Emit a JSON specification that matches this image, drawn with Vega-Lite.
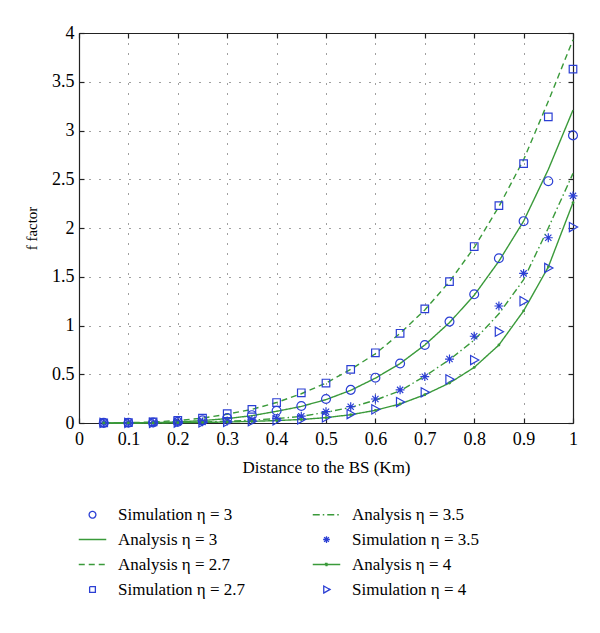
{
  "$schema": "https://vega.github.io/schema/vega-lite/v6.json",
  "width": 494,
  "height": 390,
  "autosize": {"type": "none"},
  "padding": {"left": 79, "top": 33, "right": 27, "bottom": 210},
  "config": {
    "view": {"stroke": null},
    "font": "Liberation Serif",
    "axis": {"labelFont": "Liberation Serif", "titleFont": "Liberation Serif", "labelColor": "#000", "titleColor": "#000", "titleFontWeight": "normal", "domainColor": "#222", "tickColor": "#222", "domainWidth": 1.2, "tickWidth": 1.2, "labelFlush": false}
  },
  "data": {"values": [
    {"x":0.05,"y":0.002,"series":"Simulation η = 2.7"},{"x":0.1,"y":0.005,"series":"Simulation η = 2.7"},{"x":0.15,"y":0.012,"series":"Simulation η = 2.7"},{"x":0.2,"y":0.028,"series":"Simulation η = 2.7"},{"x":0.25,"y":0.05,"series":"Simulation η = 2.7"},{"x":0.3,"y":0.095,"series":"Simulation η = 2.7"},{"x":0.35,"y":0.14,"series":"Simulation η = 2.7"},{"x":0.4,"y":0.21,"series":"Simulation η = 2.7"},{"x":0.45,"y":0.31,"series":"Simulation η = 2.7"},{"x":0.5,"y":0.41,"series":"Simulation η = 2.7"},{"x":0.55,"y":0.55,"series":"Simulation η = 2.7"},{"x":0.6,"y":0.72,"series":"Simulation η = 2.7"},{"x":0.65,"y":0.92,"series":"Simulation η = 2.7"},{"x":0.7,"y":1.17,"series":"Simulation η = 2.7"},{"x":0.75,"y":1.45,"series":"Simulation η = 2.7"},{"x":0.8,"y":1.81,"series":"Simulation η = 2.7"},{"x":0.85,"y":2.23,"series":"Simulation η = 2.7"},{"x":0.9,"y":2.66,"series":"Simulation η = 2.7"},{"x":0.95,"y":3.14,"series":"Simulation η = 2.7"},{"x":1,"y":3.63,"series":"Simulation η = 2.7"},
    {"x":0.05,"y":0.001,"series":"Simulation η = 3"},{"x":0.1,"y":0.002,"series":"Simulation η = 3"},{"x":0.15,"y":0.005,"series":"Simulation η = 3"},{"x":0.2,"y":0.013,"series":"Simulation η = 3"},{"x":0.25,"y":0.027,"series":"Simulation η = 3"},{"x":0.3,"y":0.05,"series":"Simulation η = 3"},{"x":0.35,"y":0.08,"series":"Simulation η = 3"},{"x":0.4,"y":0.126,"series":"Simulation η = 3"},{"x":0.45,"y":0.174,"series":"Simulation η = 3"},{"x":0.5,"y":0.246,"series":"Simulation η = 3"},{"x":0.55,"y":0.34,"series":"Simulation η = 3"},{"x":0.6,"y":0.465,"series":"Simulation η = 3"},{"x":0.65,"y":0.61,"series":"Simulation η = 3"},{"x":0.7,"y":0.8,"series":"Simulation η = 3"},{"x":0.75,"y":1.04,"series":"Simulation η = 3"},{"x":0.8,"y":1.32,"series":"Simulation η = 3"},{"x":0.85,"y":1.69,"series":"Simulation η = 3"},{"x":0.9,"y":2.07,"series":"Simulation η = 3"},{"x":0.95,"y":2.48,"series":"Simulation η = 3"},{"x":1,"y":2.95,"series":"Simulation η = 3"},
    {"x":0.05,"y":0.0005,"series":"Simulation η = 3.5"},{"x":0.1,"y":0.001,"series":"Simulation η = 3.5"},{"x":0.15,"y":0.003,"series":"Simulation η = 3.5"},{"x":0.2,"y":0.006,"series":"Simulation η = 3.5"},{"x":0.25,"y":0.012,"series":"Simulation η = 3.5"},{"x":0.3,"y":0.02,"series":"Simulation η = 3.5"},{"x":0.35,"y":0.032,"series":"Simulation η = 3.5"},{"x":0.4,"y":0.048,"series":"Simulation η = 3.5"},{"x":0.45,"y":0.07,"series":"Simulation η = 3.5"},{"x":0.5,"y":0.116,"series":"Simulation η = 3.5"},{"x":0.55,"y":0.167,"series":"Simulation η = 3.5"},{"x":0.6,"y":0.246,"series":"Simulation η = 3.5"},{"x":0.65,"y":0.34,"series":"Simulation η = 3.5"},{"x":0.7,"y":0.475,"series":"Simulation η = 3.5"},{"x":0.75,"y":0.656,"series":"Simulation η = 3.5"},{"x":0.8,"y":0.89,"series":"Simulation η = 3.5"},{"x":0.85,"y":1.2,"series":"Simulation η = 3.5"},{"x":0.9,"y":1.535,"series":"Simulation η = 3.5"},{"x":0.95,"y":1.9,"series":"Simulation η = 3.5"},{"x":1,"y":2.33,"series":"Simulation η = 3.5"},
    {"x":0.05,"y":0.0002,"series":"Simulation η = 4"},{"x":0.1,"y":0.0005,"series":"Simulation η = 4"},{"x":0.15,"y":0.001,"series":"Simulation η = 4"},{"x":0.2,"y":0.003,"series":"Simulation η = 4"},{"x":0.25,"y":0.006,"series":"Simulation η = 4"},{"x":0.3,"y":0.011,"series":"Simulation η = 4"},{"x":0.35,"y":0.018,"series":"Simulation η = 4"},{"x":0.4,"y":0.027,"series":"Simulation η = 4"},{"x":0.45,"y":0.038,"series":"Simulation η = 4"},{"x":0.5,"y":0.058,"series":"Simulation η = 4"},{"x":0.55,"y":0.092,"series":"Simulation η = 4"},{"x":0.6,"y":0.14,"series":"Simulation η = 4"},{"x":0.65,"y":0.215,"series":"Simulation η = 4"},{"x":0.7,"y":0.315,"series":"Simulation η = 4"},{"x":0.75,"y":0.448,"series":"Simulation η = 4"},{"x":0.8,"y":0.646,"series":"Simulation η = 4"},{"x":0.85,"y":0.936,"series":"Simulation η = 4"},{"x":0.9,"y":1.25,"series":"Simulation η = 4"},{"x":0.95,"y":1.59,"series":"Simulation η = 4"},{"x":1,"y":2.01,"series":"Simulation η = 4"},
    {"x":0.05,"y":0.0005,"series":"Analysis η = 2.7"},{"x":0.1,"y":0.003,"series":"Analysis η = 2.7"},{"x":0.15,"y":0.01,"series":"Analysis η = 2.7"},{"x":0.2,"y":0.025,"series":"Analysis η = 2.7"},{"x":0.25,"y":0.05,"series":"Analysis η = 2.7"},{"x":0.3,"y":0.09,"series":"Analysis η = 2.7"},{"x":0.35,"y":0.14,"series":"Analysis η = 2.7"},{"x":0.4,"y":0.21,"series":"Analysis η = 2.7"},{"x":0.45,"y":0.3,"series":"Analysis η = 2.7"},{"x":0.5,"y":0.41,"series":"Analysis η = 2.7"},{"x":0.55,"y":0.55,"series":"Analysis η = 2.7"},{"x":0.6,"y":0.71,"series":"Analysis η = 2.7"},{"x":0.65,"y":0.92,"series":"Analysis η = 2.7"},{"x":0.7,"y":1.16,"series":"Analysis η = 2.7"},{"x":0.75,"y":1.45,"series":"Analysis η = 2.7"},{"x":0.8,"y":1.8,"series":"Analysis η = 2.7"},{"x":0.85,"y":2.22,"series":"Analysis η = 2.7"},{"x":0.9,"y":2.7,"series":"Analysis η = 2.7"},{"x":0.95,"y":3.3,"series":"Analysis η = 2.7"},{"x":1,"y":3.93,"series":"Analysis η = 2.7"},
    {"x":0.05,"y":0.0002,"series":"Analysis η = 3"},{"x":0.1,"y":0.001,"series":"Analysis η = 3"},{"x":0.15,"y":0.004,"series":"Analysis η = 3"},{"x":0.2,"y":0.011,"series":"Analysis η = 3"},{"x":0.25,"y":0.025,"series":"Analysis η = 3"},{"x":0.3,"y":0.045,"series":"Analysis η = 3"},{"x":0.35,"y":0.075,"series":"Analysis η = 3"},{"x":0.4,"y":0.12,"series":"Analysis η = 3"},{"x":0.45,"y":0.17,"series":"Analysis η = 3"},{"x":0.5,"y":0.24,"series":"Analysis η = 3"},{"x":0.55,"y":0.335,"series":"Analysis η = 3"},{"x":0.6,"y":0.46,"series":"Analysis η = 3"},{"x":0.65,"y":0.61,"series":"Analysis η = 3"},{"x":0.7,"y":0.8,"series":"Analysis η = 3"},{"x":0.75,"y":1.03,"series":"Analysis η = 3"},{"x":0.8,"y":1.31,"series":"Analysis η = 3"},{"x":0.85,"y":1.66,"series":"Analysis η = 3"},{"x":0.9,"y":2.07,"series":"Analysis η = 3"},{"x":0.95,"y":2.6,"series":"Analysis η = 3"},{"x":1,"y":3.21,"series":"Analysis η = 3"},
    {"x":0.05,"y":0.0003,"series":"Analysis η = 3.5"},{"x":0.1,"y":0.001,"series":"Analysis η = 3.5"},{"x":0.15,"y":0.002,"series":"Analysis η = 3.5"},{"x":0.2,"y":0.005,"series":"Analysis η = 3.5"},{"x":0.25,"y":0.01,"series":"Analysis η = 3.5"},{"x":0.3,"y":0.018,"series":"Analysis η = 3.5"},{"x":0.35,"y":0.03,"series":"Analysis η = 3.5"},{"x":0.4,"y":0.045,"series":"Analysis η = 3.5"},{"x":0.45,"y":0.068,"series":"Analysis η = 3.5"},{"x":0.5,"y":0.11,"series":"Analysis η = 3.5"},{"x":0.55,"y":0.16,"series":"Analysis η = 3.5"},{"x":0.6,"y":0.235,"series":"Analysis η = 3.5"},{"x":0.65,"y":0.33,"series":"Analysis η = 3.5"},{"x":0.7,"y":0.48,"series":"Analysis η = 3.5"},{"x":0.75,"y":0.65,"series":"Analysis η = 3.5"},{"x":0.8,"y":0.85,"series":"Analysis η = 3.5"},{"x":0.85,"y":1.12,"series":"Analysis η = 3.5"},{"x":0.9,"y":1.47,"series":"Analysis η = 3.5"},{"x":0.95,"y":2.0,"series":"Analysis η = 3.5"},{"x":1,"y":2.56,"series":"Analysis η = 3.5"},
    {"x":0.05,"y":0.0002,"series":"Analysis η = 4"},{"x":0.1,"y":0.0005,"series":"Analysis η = 4"},{"x":0.15,"y":0.001,"series":"Analysis η = 4"},{"x":0.2,"y":0.003,"series":"Analysis η = 4"},{"x":0.25,"y":0.006,"series":"Analysis η = 4"},{"x":0.3,"y":0.01,"series":"Analysis η = 4"},{"x":0.35,"y":0.017,"series":"Analysis η = 4"},{"x":0.4,"y":0.025,"series":"Analysis η = 4"},{"x":0.45,"y":0.036,"series":"Analysis η = 4"},{"x":0.5,"y":0.055,"series":"Analysis η = 4"},{"x":0.55,"y":0.085,"series":"Analysis η = 4"},{"x":0.6,"y":0.13,"series":"Analysis η = 4"},{"x":0.65,"y":0.195,"series":"Analysis η = 4"},{"x":0.7,"y":0.29,"series":"Analysis η = 4"},{"x":0.75,"y":0.41,"series":"Analysis η = 4"},{"x":0.8,"y":0.57,"series":"Analysis η = 4"},{"x":0.85,"y":0.8,"series":"Analysis η = 4"},{"x":0.9,"y":1.15,"series":"Analysis η = 4"},{"x":0.95,"y":1.6,"series":"Analysis η = 4"},{"x":1,"y":2.26,"series":"Analysis η = 4"}
  ]},
  "layer": [
    {
      "transform": [{"filter": {"field": "series", "oneOf": ["Analysis η = 2.7", "Analysis η = 3", "Analysis η = 3.5", "Analysis η = 4"]}}],
      "mark": {"type": "line", "strokeWidth": 1.4},
      "encoding": {
        "x": {"field": "x", "type": "quantitative", "scale": {"domain": [0, 1], "nice": false},
          "axis": {"values": [0, 0.1, 0.2, 0.3, 0.4, 0.5, 0.6, 0.7, 0.8, 0.9, 1], "format": "~g", "tickSize": -5, "labelPadding": 12, "labelFontSize": 18, "title": "Distance to the BS (Km)", "titleFontSize": 17, "titlePadding": 11, "grid": true, "gridDash": [1, 9], "gridColor": "#000", "gridOpacity": 0.75, "gridWidth": 1}},
        "y": {"field": "y", "type": "quantitative", "scale": {"domain": [0, 4], "nice": false},
          "axis": {"values": [0, 0.5, 1, 1.5, 2, 2.5, 3, 3.5, 4], "format": "~g", "tickSize": -5, "labelPadding": 10, "labelFontSize": 18, "title": "f factor", "titleFontSize": 15, "titlePadding": 12, "grid": true, "gridDash": [1, 9], "gridColor": "#000", "gridOpacity": 0.75, "gridWidth": 1}},
        "color": {"field": "series", "type": "nominal",
          "scale": {"domain": ["Simulation η = 3", "Analysis η = 3.5", "Analysis η = 3", "Simulation η = 3.5", "Analysis η = 2.7", "Analysis η = 4", "Simulation η = 2.7", "Simulation η = 4"],
                    "range": ["#2b3fd4", "#3a9a3a", "#3a9a3a", "#2b3fd4", "#3a9a3a", "#3a9a3a", "#2b3fd4", "#2b3fd4"]},
          "legend": {"orient": "bottom", "columns": 2, "title": null, "symbolSize": 625, "labelFont": "Liberation Serif", "labelFontSize": 17, "labelColor": "#000", "labelOffset": 12, "columnPadding": 64, "rowPadding": 3, "offset": 26, "padding": 0, "symbolStrokeWidth": 1.3,
            "encode": {"symbols": {"update": {"shape": {"scale": "shape", "field": "value"}, "strokeDash": {"scale": "strokeDash", "field": "value"}, "fill": {"value": "transparent"}, "stroke": {"scale": "color", "field": "value"}, "strokeWidth": {"value": 1.3}, "opacity": {"value": 1}}}}}},
        "strokeDash": {"field": "series", "type": "nominal",
          "scale": {"domain": ["Simulation η = 3", "Analysis η = 3.5", "Analysis η = 3", "Simulation η = 3.5", "Analysis η = 2.7", "Analysis η = 4", "Simulation η = 2.7", "Simulation η = 4"],
                    "range": [[1, 0], [7, 3, 1.5, 3], [1, 0], [1, 0], [6, 4], [1, 0], [1, 0], [1, 0]]},
          "legend": null}
      }
    },
    {
      "transform": [{"filter": {"field": "series", "oneOf": ["Simulation η = 2.7", "Simulation η = 3", "Simulation η = 3.5", "Simulation η = 4"]}}],
      "mark": {"type": "point", "filled": false, "strokeWidth": 1.2, "size": 1080, "opacity": 1},
      "encoding": {
        "x": {"field": "x", "type": "quantitative", "axis": null},
        "y": {"field": "y", "type": "quantitative", "axis": null},
        "color": {"field": "series", "type": "nominal", "legend": null},
        "shape": {"field": "series", "type": "nominal",
          "scale": {"domain": ["Simulation η = 3", "Analysis η = 3.5", "Analysis η = 3", "Simulation η = 3.5", "Analysis η = 2.7", "Analysis η = 4", "Simulation η = 2.7", "Simulation η = 4"],
                    "range": ["M-0.27,0A0.27,0.27 0 1,0 0.27,0A0.27,0.27 0 1,0 -0.27,0Z", "M-1.1,0H1.1", "M-1.1,0H1.1", "M0,-0.27V0.27M-0.27,0H0.27M-0.19,-0.19L0.19,0.19M-0.19,0.19L0.19,-0.19", "M-1.1,0H1.1", "M-1.1,0H1.1M-0.08,-0.08H0.08V0.08H-0.08Z", "M-0.23,-0.23H0.23V0.23H-0.23Z", "M-0.22,-0.28L0.28,0L-0.22,0.28Z"]},
          "legend": null}
      }
    },
    {
      "transform": [{"filter": {"field": "series", "equal": "Analysis η = 4"}}],
      "mark": {"type": "point", "filled": true, "shape": "circle", "size": 8, "color": "#3a9a3a", "opacity": 1},
      "encoding": {
        "x": {"field": "x", "type": "quantitative", "axis": null},
        "y": {"field": "y", "type": "quantitative", "axis": null}
      }
    },
    {
      "mark": {"type": "point", "opacity": 0},
      "encoding": {
        "x": {"field": "x", "type": "quantitative", "axis": {"orient": "top", "values": [0, 0.1, 0.2, 0.3, 0.4, 0.5, 0.6, 0.7, 0.8, 0.9, 1], "labels": false, "title": null, "tickSize": -5, "grid": false}},
        "y": {"field": "y", "type": "quantitative", "axis": {"orient": "right", "values": [0, 0.5, 1, 1.5, 2, 2.5, 3, 3.5, 4], "labels": false, "title": null, "tickSize": -5, "grid": false}}
      }
    }
  ],
  "resolve": {"axis": {"x": "independent", "y": "independent"}}
}
